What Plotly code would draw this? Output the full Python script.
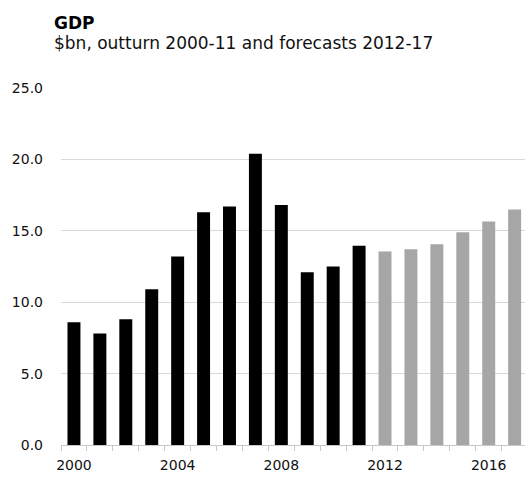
import plotly.graph_objects as go

years = [str(y) for y in range(2000, 2018)]
gdp = [8.6, 7.8, 8.8, 10.9, 13.2, 16.3, 16.7, 20.4, 16.8, 12.1, 12.5, 13.95,
       13.55, 13.7, 14.05, 14.9, 15.65, 16.5]
period = ["outturn"] * 12 + ["forecast"] * 6
period_colors = {"outturn": "#000000", "forecast": "#a6a6a6"}
labelled_years = ["2000", "2004", "2008", "2012", "2016"]
y_ticks = [0, 5, 10, 15, 20, 25]

title = "GDP"
subtitle = "$bn, outturn 2000-11 and forecasts 2012-17"

FONT = "DejaVu Sans"

fig = go.Figure(
    go.Bar(
        x=years,
        y=gdp,
        marker=dict(color=[period_colors[p] for p in period], line=dict(width=0)),
        showlegend=False,
    )
)

W, H = 525, 479
ML, MR, MT, MB = 61, 0, 88, 34
plot_h = H - MT - MB

def py(px):
    return 1 + (MT - px) / plot_h

fig.update_layout(
    width=W,
    height=H,
    margin=dict(l=ML, r=MR, t=MT, b=MB, pad=0),
    paper_bgcolor="white",
    plot_bgcolor="white",
    bargap=0.5,
    font=dict(family=FONT, color="#111111", size=14),
    xaxis=dict(
        type="category",
        range=[-0.5, 17.4],
        tickmode="array",
        tickvals=years,
        ticktext=[y if y in labelled_years else "" for y in years],
        tickson="boundaries",
        tickangle=0,
        ticks="outside",
        ticklen=5,
        tickcolor="#c8c8c8",
        tickwidth=1,
        ticklabelstandoff=7,
        showline=True,
        linecolor="#c8c8c8",
        linewidth=1,
        showgrid=False,
        tickfont=dict(family=FONT, size=14, color="#111111"),
    ),
    yaxis=dict(
        range=[0, 25],
        tickvals=y_ticks,
        ticktext=[f"{v:.1f}" for v in y_ticks],
        showgrid=True,
        gridcolor="#d9d9d9",
        gridwidth=1,
        zeroline=False,
        showline=False,
        ticks="",
        ticklabelstandoff=17,
        tickfont=dict(family=FONT, size=14, color="#111111"),
    ),
    annotations=[
        dict(
            text=(f"<span style='font-size:17px;color:#000000'><b>{title}</b></span><br>"
                  f"<span style='font-size:17px'>{subtitle}</span>"),
            xref="paper", yref="paper",
            x=(52 - ML) / (W - ML - MR), y=py(11),
            xanchor="left", yanchor="top", align="left",
            showarrow=False,
            font=dict(family=FONT, size=15.3, color="#111111"),
        ),
    ],
)

fig.write_html(
    "out.html",
    config={"displayModeBar": False},
    post_script="document.body.style.margin='0';document.body.style.padding='0';document.body.style.overflow='hidden';",
)
